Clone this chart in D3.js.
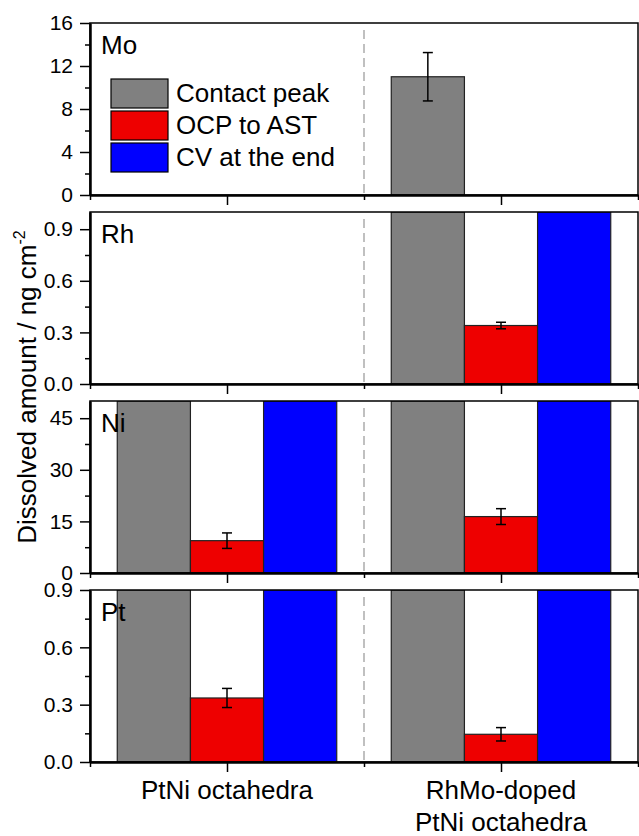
<!DOCTYPE html>
<html>
<head>
<meta charset="utf-8">
<script src="https://cdn.jsdelivr.net/npm/d3@7"></script>
<style>
	body{margin:0;background:#fff;}
	svg{display:block;font-family:Arial,"Liberation Sans",sans-serif;}
</style>
</head>
<body>
<div id="chart"></div>
<script>

// categories and series
const categories = ['PtNi octahedra', 'RhMo-doped\nPtNi octahedra'];
const series = ['Contact peak', 'OCP to AST', 'CV at the end'];
const seriesColors = ['#808080', '#ee0000', '#0000ff'];

// one panel per element, values[category][series]
// bars that run off the top of a panel are set to the axis max
const elements = ['Mo', 'Rh', 'Ni', 'Pt'];
const moValues = [[0, 0, 0], [11.0, 0, 0]];
const moErrors = [[0, 0, 0], [2.25, 0, 0]];
const rhValues = [[0, 0, 0], [1.0, 0.34, 1.0]];
const rhErrors = [[0, 0, 0], [0, 0.019, 0]];
const niValues = [[50, 9.4, 50], [50, 16.4, 50]];
const niErrors = [[0, 2.25, 0], [0, 2.3, 0]];
const ptValues = [[0.9, 0.335, 0.9], [0.9, 0.145, 0.9]];
const ptErrors = [[0, 0.05, 0], [0, 0.035, 0]];

// axis ticks
const yMax = [16, 1.0, 50, 0.9];
const yTicks = [[0, 4, 8, 12, 16], [0, 0.3, 0.6, 0.9], [0, 15, 30, 45], [0, 0.3, 0.6, 0.9]];
const yMinor = [[2, 6, 10, 14], [0.15, 0.45, 0.75], [7.5, 22.5, 37.5], [0.15, 0.45, 0.75]];
const yFormats = [d3.format('d'), d3.format('.1f'), d3.format('d'), d3.format('.1f')];

const allValues = [moValues, rhValues, niValues, ptValues];
const allErrors = [moErrors, rhErrors, niErrors, ptErrors];

const W = 639;
const H = 836;
const panelTop = 23;
const panelH = 172;
const panelStep = 189;
const barW = 0.267;
const font = 'Arial, "Liberation Sans", sans-serif';

const svg = d3.select('#chart')
	.append('svg')
	.attr('width', W)
	.attr('height', H);

const x = d3.scaleLinear().domain([0.5, 2.5]).range([90, 638]);

function styleAxis(g, size){
	g.selectAll('text')
		.style('font-size', size + 'px')
		.style('font-family', font)
		.attr('fill', '#000');
	g.selectAll('.tick line').attr('stroke', '#000').attr('stroke-width', 1.5);
	g.select('.domain').attr('stroke', '#000').attr('stroke-width', 2);
}

elements.forEach(function(el, i){

	const top = panelTop + i * panelStep;
	const bottom = top + panelH;
	const y = d3.scaleLinear().domain([0, yMax[i]]).range([bottom, top]);

	const rows = [];
	categories.forEach(function(c, ci){
		series.forEach(function(s, si){
			rows.push({cat: ci + 1, s: si, v: allValues[i][ci][si], e: allErrors[i][ci][si]});
		});
	});

	const panel = svg.append('g').attr('class', 'panel');

	panel.append('clipPath')
		.attr('id', 'clip' + i)
		.append('rect')
		.attr('x', x(0.5))
		.attr('y', top)
		.attr('width', x(2.5) - x(0.5))
		.attr('height', panelH);

	// divider between the two samples
	panel.append('line')
		.attr('x1', x(1.5)).attr('x2', x(1.5))
		.attr('y1', top + 7).attr('y2', bottom)
		.attr('stroke', '#c0c0c0')
		.attr('stroke-width', 2)
		.attr('stroke-dasharray', '9,5');

	panel.append('g')
		.attr('clip-path', 'url(#clip' + i + ')')
		.selectAll('rect')
		.data(rows.filter(function(d){return d.v > 0}))
		.enter()
		.append('rect')
		.attr('x', function(d){return x(d.cat + (d.s - 1.5) * barW)})
		.attr('y', function(d){return y(d.v)})
		.attr('width', x(barW) - x(0))
		.attr('height', function(d){return bottom - y(d.v)})
		.attr('fill', function(d){return seriesColors[d.s]})
		.attr('stroke', '#222')
		.attr('stroke-width', 1.2);

	// error bars
	const err = panel.append('g')
		.selectAll('g')
		.data(rows.filter(function(d){return d.e > 0}))
		.enter()
		.append('g')
		.attr('stroke', '#000')
		.attr('stroke-width', 1.5);

	err.append('line')
		.attr('x1', function(d){return x(d.cat + (d.s - 1) * barW)})
		.attr('x2', function(d){return x(d.cat + (d.s - 1) * barW)})
		.attr('y1', function(d){return y(d.v - d.e)})
		.attr('y2', function(d){return y(d.v + d.e)});
	[-1, 1].forEach(function(k){
		err.append('line')
			.attr('x1', function(d){return x(d.cat + (d.s - 1) * barW) - 5})
			.attr('x2', function(d){return x(d.cat + (d.s - 1) * barW) + 5})
			.attr('y1', function(d){return y(d.v + k * d.e)})
			.attr('y2', function(d){return y(d.v + k * d.e)});
	});

	// frame
	panel.append('rect')
		.attr('x', x(0.5))
		.attr('y', top)
		.attr('width', x(2.5) - x(0.5))
		.attr('height', panelH)
		.attr('fill', 'none')
		.attr('stroke', '#000')
		.attr('stroke-width', 1.5);

	panel.append('text')
		.attr('x', 101)
		.attr('y', top + 31)
		.style('font-size', '26px')
		.text(el);

	// y axis
	const yAxis = panel.append('g')
		.attr('transform', `translate(${x(0.5)},0)`)
		.call(d3.axisLeft(y).tickValues(yTicks[i]).tickSize(10).tickSizeOuter(0).tickPadding(7).tickFormat(yFormats[i]));
	styleAxis(yAxis, 21);

	const yMinorAxis = panel.append('g')
		.attr('transform', `translate(${x(0.5)},0)`)
		.call(d3.axisLeft(y).tickValues(yMinor[i]).tickSize(5).tickSizeOuter(0).tickFormat(''));
	styleAxis(yMinorAxis, 21);

	// x axis
	const xAxis = panel.append('g')
		.attr('transform', `translate(0,${bottom})`)
		.call(d3.axisBottom(x).tickValues([1, 2]).tickSize(10).tickSizeOuter(0).tickFormat(''));
	styleAxis(xAxis, 21);

	const xMinorAxis = panel.append('g')
		.attr('transform', `translate(0,${bottom})`)
		.call(d3.axisBottom(x).tickValues([0.5, 1.5, 2.5]).tickSize(5).tickSizeOuter(0).tickFormat(''));
	styleAxis(xMinorAxis, 21);

	if(i === 0){
		const legend = panel.append('g')
			.selectAll('g')
			.data(series)
			.enter()
			.append('g')
			.attr('transform', function(d, k){return `translate(111,${79 + k * 32})`});
		legend.append('rect')
			.attr('width', 57)
			.attr('height', 29)
			.attr('fill', function(d, k){return seriesColors[k]})
			.attr('stroke', '#000')
			.attr('stroke-width', 1.2);
		legend.append('text')
			.attr('x', 65)
			.attr('y', 23)
			.style('font-size', '26px')
			.text(function(d){return d});
	}

	if(i === elements.length - 1){
		const labels = panel.selectAll('.catlabel')
			.data(categories)
			.enter()
			.append('text')
			.attr('class', 'catlabel')
			.attr('text-anchor', 'middle')
			.style('font-size', '26px');
		labels.each(function(d, ci){
			const lines = d.split('\n');
			const t = d3.select(this);
			lines.forEach(function(line, li){
				t.append('tspan')
					.attr('x', x(ci + 1))
					.attr('y', bottom + 37 + li * 32)
					.text(line);
			});
		});
	}
});

// y axis title
const title = svg.append('text')
	.attr('transform', 'translate(36,387) rotate(-90)')
	.attr('text-anchor', 'middle')
	.style('font-size', '26px');
title.append('tspan').text('Dissolved amount / ng cm');
title.append('tspan')
	.attr('dy', -11)
	.style('font-size', '16px')
	.text('-2');

</script>
</body>
</html>
